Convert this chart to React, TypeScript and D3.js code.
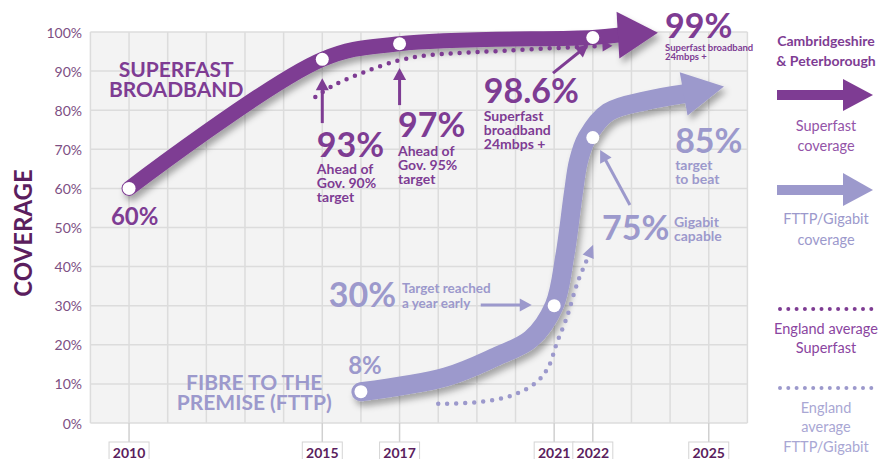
import React from 'react';
import * as d3 from 'd3';

// ---------- DATA ----------
const superfastYears = [2010, 2015, 2017, 2022, 2022.65];
const superfastValues = [60, 93, 97, 98.6, 99.2];
const superfastMarkerYears = [2010, 2015, 2017, 2022];
const superfastMarkerValues = [60, 93, 97, 98.6];

const fttpYears = [2016, 2018.2, 2019.5, 2020.4, 2021, 2021.28, 2021.5, 2021.63, 2021.85, 2022.4, 2023.4, 2024.35];
const fttpValues = [8, 11.8, 17, 21.5, 30, 43, 59, 67, 73, 79.5, 82.5, 84.2];
const fttpMarkerYears = [2016, 2021, 2022];
const fttpMarkerValues = [8, 30, 73];

const englandSuperfastYears = [2014.82, 2015.3, 2016.1, 2017, 2017.8, 2019.1, 2021.7, 2022.25];
const englandSuperfastValues = [83.4, 86.4, 89.8, 92.8, 94.1, 94.9, 96.2, 96.4];

const englandFttpYears = [2018, 2019.1, 2019.95, 2020.55, 2020.85, 2021.07, 2021.33, 2021.6, 2021.88];
const englandFttpValues = [4.9, 5.4, 7.2, 10.5, 14.3, 20.5, 27.1, 35.8, 42.5];

const xTickYears = [2010, 2015, 2017, 2021, 2022, 2025];
const yTickValues = [0, 10, 20, 30, 40, 50, 60, 70, 80, 90, 100];
const yTickLabels = yTickValues.map((v) => `${v}%`);

const gridYears = d3.range(2009, 2027);

const label93 = ['93%', 'Ahead of', 'Gov. 90%', 'target'];
const label97 = ['97%', 'Ahead of', 'Gov. 95%', 'target'];
const label986 = ['98.6%', 'Superfast', 'broadband', '24mbps +'];
const label99 = ['99%', 'Superfast broadband', '24mbps +'];
const label30 = ['30%', 'Target reached', 'a year early'];
const label75 = ['75%', 'Gigabit', 'capable'];
const label85 = ['85%', 'target', 'to beat'];

// ---------- STYLE ----------
const W = 896;
const H = 459;
const PURPLE = '#7e3c93';
const LAVENDER = '#9c99cc';
const DARK = '#5b1e5e';
const FONT = 'Lato, "Open Sans", sans-serif';

const x = d3.scaleLinear().domain([2009, 2026]).range([90.4, 747.4]);
const y = d3.scaleLinear().domain([0, 100]).range([423, 32]);

type P = [number, number];
const toPts = (ys: number[], vs: number[]): P[] => ys.map((yr, i) => [x(yr), y(vs[i])]);

const lineGen = d3.line<P>().x((d) => d[0]).y((d) => d[1]).curve(d3.curveCatmullRom.alpha(0.5));

function headPoly(end: P, prev: P, len: number, half: number): string {
  const dx = end[0] - prev[0];
  const dy = end[1] - prev[1];
  const l = Math.hypot(dx, dy) || 1;
  const ux = dx / l, uy = dy / l;
  const px = -uy, py = ux;
  const tip: P = [end[0] + ux * len, end[1] + uy * len];
  const a: P = [end[0] + px * half, end[1] + py * half];
  const b: P = [end[0] - px * half, end[1] - py * half];
  return [a, tip, b].map((p) => p.join(',')).join(' ');
}

function Arrow({ from, to, color, width = 3, len = 12, half = 6.5 }: { from: P; to: P; color: string; width?: number; len?: number; half?: number }) {
  const dx = to[0] - from[0];
  const dy = to[1] - from[1];
  const l = Math.hypot(dx, dy);
  const ux = dx / l, uy = dy / l;
  const base: P = [to[0] - ux * len, to[1] - uy * len];
  return (
    <g>
      <line x1={from[0]} y1={from[1]} x2={base[0] + ux * 1} y2={base[1] + uy * 1} stroke={color} strokeWidth={width} />
      <polygon points={headPoly(base, from, len, half)} fill={color} />
    </g>
  );
}

function MultiText({ px, py, lines, color, bigSize, smallSize, lh, anchor = 'start', firstGap }: {
  px: number; py: number; lines: string[]; color: string; bigSize: number; smallSize: number; lh: number; anchor?: string; firstGap: number;
}) {
  return (
    <text x={px} y={py} fill={color} fontFamily={FONT} fontWeight={700} textAnchor={anchor as any}>
      <tspan x={px} fontSize={bigSize}>{lines[0]}</tspan>
      {lines.slice(1).map((t, i) => (
        <tspan key={i} x={px} dy={i === 0 ? firstGap : lh} fontSize={smallSize}>{t}</tspan>
      ))}
    </text>
  );
}

export default function App() {
  const sf = toPts(superfastYears, superfastValues);
  const ft = toPts(fttpYears, fttpValues);
  const esf = toPts(englandSuperfastYears, englandSuperfastValues);
  const eft = toPts(englandFttpYears, englandFttpValues);
  const sfM = toPts(superfastMarkerYears, superfastMarkerValues);
  const ftM = toPts(fttpMarkerYears, fttpMarkerValues);

  const x0 = x(2009), x1 = x(2026), yTop = y(100), yBot = y(0);

  return (
    <svg width={W} height={H} viewBox={`0 0 ${W} ${H}`} style={{ position: 'absolute', left: 0, top: 0, background: '#fff' }}>
      <defs>
        <filter id="shadow" x="-10%" y="-20%" width="130%" height="150%">
          <feDropShadow dx={3} dy={5} stdDeviation={3} floodColor="#000" floodOpacity={0.32} />
        </filter>
      </defs>

      {/* grid */}
      <rect x={x0} y={yTop} width={x1 - x0} height={yBot - yTop} fill="#f3f3f3" />
      {gridYears.map((yr) => (
        <line key={'v' + yr} x1={x(yr)} x2={x(yr)} y1={yTop} y2={yBot} stroke="#dcdcdc" strokeWidth={1.5} />
      ))}
      {yTickValues.map((v) => (
        <line key={'h' + v} x1={x0} x2={x1} y1={y(v)} y2={y(v)} stroke="#dcdcdc" strokeWidth={1.5} />
      ))}

      {/* y tick labels */}
      {yTickValues.map((v, i) => (
        <text key={'yl' + v} x={82} y={y(v)} textAnchor="end" dominantBaseline="central" fontFamily={FONT} fontSize={14} fill="#7d4f83">
          {yTickLabels[i]}
        </text>
      ))}

      {/* x ticks */}
      {xTickYears.map((yr) => (
        <g key={'xt' + yr}>
          <line x1={x(yr)} x2={x(yr)} y1={yBot} y2={442} stroke="#d0d0d0" strokeWidth={1.5} />
          <rect x={x(yr) - 20} y={442} width={40} height={22} fill="#fff" stroke="#d4d4d4" strokeWidth={1} />
          <text x={x(yr)} y={457.5} textAnchor="middle" fontFamily={FONT} fontWeight={700} fontSize={14} fill={DARK}>{yr}</text>
        </g>
      ))}

      {/* axis title */}
      <text transform="translate(22,233) rotate(-90)" textAnchor="middle" dominantBaseline="central" fontFamily={FONT} fontWeight={700} fontSize={24} fill={DARK}>
        COVERAGE
      </text>

      {/* main lines */}
      <g filter="url(#shadow)">
        <path d={lineGen(ft) || ''} fill="none" stroke={LAVENDER} strokeWidth={19} strokeLinecap="round" />
        <polygon points={headPoly(ft[ft.length - 1], ft[ft.length - 2], 41, 22)} fill={LAVENDER} />
      </g>
      <g filter="url(#shadow)">
        <path d={lineGen(sf) || ''} fill="none" stroke={PURPLE} strokeWidth={15} strokeLinecap="round" />
        <polygon points={headPoly(sf[sf.length - 1], [sf[sf.length - 2][0], sf[sf.length - 1][1] + 1.5], 40, 23.5)} fill={PURPLE} />
      </g>

      {/* England average dotted lines */}
      <path d={lineGen(esf) || ''} fill="none" stroke={PURPLE} strokeWidth={4.5} strokeLinecap="round" strokeDasharray="0 9" />
      <polygon points={headPoly(esf[esf.length - 1], esf[esf.length - 2], 10, 5.5)} fill={PURPLE} />
      <path d={lineGen(eft) || ''} fill="none" stroke={LAVENDER} strokeWidth={4.5} strokeLinecap="round" strokeDasharray="0 9" />
      <polygon points={headPoly(eft[eft.length - 1], eft[eft.length - 2], 13, 6)} fill={LAVENDER} />

      {/* markers */}
      {sfM.map((p, i) => <circle key={'sm' + i} cx={p[0]} cy={p[1]} r={6.5} fill="#fff" />)}
      {ftM.map((p, i) => <circle key={'fm' + i} cx={p[0]} cy={p[1]} r={6.5} fill="#fff" />)}

      {/* superfast annotations */}
      <text x={x(2009.53)} y={y(50.64)} fontFamily={FONT} fontWeight={700} fontSize={24} fill={PURPLE}>60%</text>
      <text x={x(2011.22)} y={y(88.5)} textAnchor="middle" fontFamily={FONT} fontWeight={700} fontSize={21} fill={PURPLE}>
        <tspan x={x(2011.22)}>SUPERFAST</tspan>
        <tspan x={x(2011.22)} dy={20}>BROADBAND</tspan>
      </text>

      <Arrow from={[x(2015), y(76.7)]} to={[x(2015), y(88.2)]} color={PURPLE} />
      <Arrow from={[x(2017), y(81.3)]} to={[x(2017), y(90.8)]} color={PURPLE} />
      <Arrow from={[x(2020.97), y(89.5)]} to={[x(2021.88), y(96.7)]} color={PURPLE} />

      <MultiText px={x(2014.86)} py={y(68)} lines={label93} color={PURPLE} bigSize={34} smallSize={14} lh={14} firstGap={17} />
      <MultiText px={x(2016.96)} py={y(73.1)} lines={label97} color={PURPLE} bigSize={34} smallSize={14} lh={14} firstGap={19} />
      <MultiText px={x(2019.18)} py={y(81.8)} lines={label986} color={PURPLE} bigSize={34} smallSize={14} lh={14} firstGap={18} />
      <MultiText px={x(2023.87)} py={y(98.5)} lines={label99} color={PURPLE} bigSize={34} smallSize={9.5} lh={9.5} firstGap={13} />

      {/* FTTP annotations */}
      <text x={x(2013.24)} y={y(8.4)} textAnchor="middle" fontFamily={FONT} fontWeight={700} fontSize={21} fill={LAVENDER}>
        <tspan x={x(2013.24)}>FIBRE TO THE</tspan>
        <tspan x={x(2013.24)} dy={20}>PREMISE (FTTP)</tspan>
      </text>
      <text x={x(2015.67)} y={y(12.5)} fontFamily={FONT} fontWeight={700} fontSize={24} fill={LAVENDER}>8%</text>

      <text x={x(2015.17)} y={y(29.7)} fontFamily={FONT} fontWeight={700} fontSize={34} fill={LAVENDER}>{label30[0]}</text>
      <text x={x(2017.06)} y={y(33.2)} fontFamily={FONT} fontWeight={700} fontSize={13.5} fill={LAVENDER}>
        <tspan x={x(2017.06)}>{label30[1]}</tspan>
        <tspan x={x(2017.06)} dy={14.5}>{label30[2]}</tspan>
      </text>
      <Arrow from={[x(2019.1), y(30.2)]} to={[x(2020.42), y(30.2)]} color={LAVENDER} />

      <text x={x(2022.24)} y={y(46.8)} fontFamily={FONT} fontWeight={700} fontSize={34} fill={LAVENDER}>{label75[0]}</text>
      <text x={x(2024.1)} y={y(50.1)} fontFamily={FONT} fontWeight={700} fontSize={14} fill={LAVENDER}>
        <tspan x={x(2024.1)}>{label75[1]}</tspan>
        <tspan x={x(2024.1)} dy={14}>{label75[2]}</tspan>
      </text>
      <Arrow from={[x(2022.96), y(55.75)]} to={[x(2022.19), y(69.8)]} color={LAVENDER} />

      <MultiText px={x(2024.13)} py={y(69.05)} lines={label85} color={LAVENDER} bigSize={34} smallSize={14} lh={14} firstGap={17} />

      {/* legend */}
      <g fontFamily={FONT} textAnchor="middle">
        <text x={826} y={46} fontWeight={700} fontSize={14} fill={PURPLE}>
          <tspan x={826}>Cambridgeshire</tspan>
          <tspan x={826} dy={20}>&amp; Peterborough</tspan>
        </text>
        <rect x={777} y={90} width={68} height={10} fill={PURPLE} />
        <polygon points="843,79 873,95 843,111" fill={PURPLE} />
        <text x={826} y={131} fontSize={14.5} fill="#9354a8">
          <tspan x={826}>Superfast</tspan>
          <tspan x={826} dy={20}>coverage</tspan>
        </text>
        <rect x={777} y={185} width={68} height={10} fill={LAVENDER} />
        <polygon points="843,173 873,190 843,206" fill={LAVENDER} />
        <text x={826} y={224} fontSize={14.5} fill={LAVENDER}>
          <tspan x={826}>FTTP/Gigabit</tspan>
          <tspan x={826} dy={21}>coverage</tspan>
        </text>
        <line x1={780} x2={872} y1={309} y2={309} stroke={PURPLE} strokeWidth={4} strokeLinecap="round" strokeDasharray="0 8.3" />
        <text x={826} y={334} fontSize={14.5} fill="#8a45a0">
          <tspan x={826}>England average</tspan>
          <tspan x={826} dy={19}>Superfast</tspan>
        </text>
        <line x1={780} x2={872} y1={388} y2={388} stroke={LAVENDER} strokeWidth={4} strokeLinecap="round" strokeDasharray="0 8.3" />
        <text x={826} y={413} fontSize={14.5} fill="#a9a7d4">
          <tspan x={826}>England</tspan>
          <tspan x={826} dy={19}>average</tspan>
          <tspan x={826} dy={20}>FTTP/Gigabit</tspan>
        </text>
      </g>
    </svg>
  );
}
